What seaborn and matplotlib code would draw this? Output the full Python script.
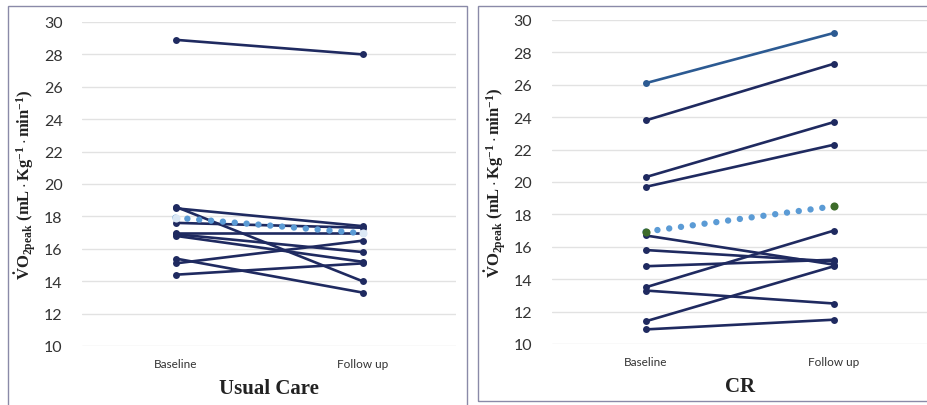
import pandas as pd
import numpy as np
import matplotlib.pyplot as plt
import seaborn as sns
from matplotlib.patches import Rectangle

# DATA

time_labels = ["Baseline", "Follow up"]

uc_baseline = [28.9, 18.6, 18.5, 17.6, 17.0, 16.9, 16.8, 15.4, 15.1, 14.4]
uc_followup = [28.0, 14.0, 17.4, 17.3, 17.0, 15.8, 15.2, 13.3, 16.5, 15.1]

cr_baseline = [26.1, 23.8, 20.3, 19.7, 16.7, 15.8, 14.8, 13.5, 13.3, 11.4, 10.9]
cr_followup = [29.2, 27.3, 23.7, 22.3, 14.9, 15.1, 15.2, 17.0, 12.5, 14.8, 11.5]

yticks = [10, 12, 14, 16, 18, 20, 22, 24, 26, 28, 30]

NAVY = "#1f2a60"
BLUE_TOP = "#2c5a92"
MEAN_BLUE = "#5b9bd5"


def long_table(base, follow):
    rows = []
    for i, (b, f) in enumerate(zip(base, follow)):
        rows.append({"subject": i, "time": time_labels[0], "value": b})
        rows.append({"subject": i, "time": time_labels[1], "value": f})
    return pd.DataFrame(rows)


sns.set_style("white")
plt.rcParams['font.family'] = ['Lato', 'DejaVu Sans']
plt.rcParams['mathtext.fontset'] = 'custom'
plt.rcParams['mathtext.rm'] = 'Liberation Serif'
plt.rcParams['mathtext.bf'] = 'Liberation Serif:bold'
plt.rcParams['mathtext.it'] = 'Liberation Serif:italic'

fig = plt.figure(figsize=(9.27, 4.06), dpi=100)

ax1 = fig.add_axes([82 / 927, 59 / 406, 374 / 927, 324 / 406])
ax2 = fig.add_axes([551.5 / 927, 61 / 406, 376.5 / 927, 324 / 406])

# panel frames
fig.patches.append(Rectangle((8 / 927, -0.05), 459 / 927, 1.05 - 7 / 406,
                             transform=fig.transFigure, fill=False,
                             edgecolor="#8a8aa8", lw=1.0))
fig.patches.append(Rectangle((478 / 927, 4 / 406), 0.5, 1 - 11 / 406,
                             transform=fig.transFigure, fill=False,
                             edgecolor="#8a8aa8", lw=1.0))

ylabel = (r"$\mathbf{\dot{V}O_{2peak}}$" + " " +
          r"$\mathbf{(mL\cdot Kg^{-1}\cdot min^{-1})}$")

panels = [
    (ax1, uc_baseline, uc_followup, "Usual Care", "#dbe8f5"),
    (ax2, cr_baseline, cr_followup, "CR", "#3d6b2a"),
]

for ax, base, follow, title, end_color in panels:
    df = long_table(base, follow)

    palette = {i: NAVY for i in df["subject"].unique()}
    if title == "CR":
        palette[0] = BLUE_TOP

    sns.lineplot(data=df, x="time", y="value", hue="subject",
                 palette=palette, estimator=None, marker="o",
                 markersize=5, markeredgewidth=0, linewidth=1.9,
                 legend=False, ax=ax, zorder=3)

    # mean line, dotted
    means = df.groupby("time", sort=False)["value"].mean().reset_index()
    sns.lineplot(data=means, x="time", y="value", color=MEAN_BLUE,
                 linewidth=4.6, linestyle=(0, (0.01, 1.85)),
                 dash_capstyle="round", ax=ax, zorder=4)
    ax.lines[-1].set_dash_capstyle("round")
    sns.scatterplot(data=means, x="time", y="value", color=end_color,
                    s=34, linewidth=0, ax=ax, zorder=5)

    ax.set_xlim(-0.5, 1.5)
    ax.set_ylim(10, 30)
    ax.set_yticks(yticks)
    ax.yaxis.grid(True, color="#e2e2e2", lw=1)
    ax.xaxis.grid(False)
    for s in ax.spines.values():
        s.set_visible(False)
    ax.tick_params(axis="y", labelsize=11.5, length=0, pad=14,
                   labelcolor="#333333")
    ax.tick_params(axis="x", labelsize=8.5, length=0, pad=9,
                   labelcolor="#333333")
    ax.set_xlabel(title, family="Liberation Serif", fontsize=15,
                  fontweight="bold", labelpad=6, color="#222222")
    ax.set_ylabel(ylabel, fontsize=12, labelpad=4, color="#222222")

plt.savefig("out.png", dpi=100)
